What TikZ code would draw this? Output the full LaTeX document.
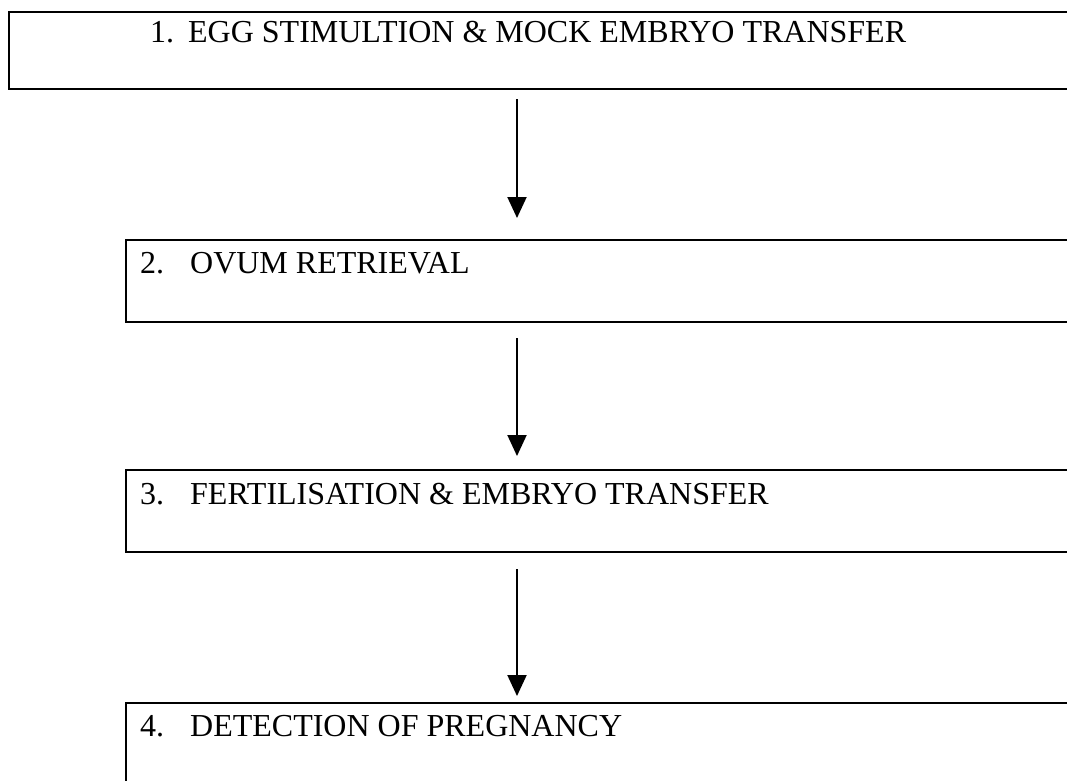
\documentclass[tikz,border=0pt]{standalone}
\usepackage{fontspec}
\setmainfont{Liberation Serif}
\usetikzlibrary{arrows.meta}
\begin{document}
\begin{tikzpicture}[x=1pt,y=1pt,
  box/.style={draw, line width=2pt, anchor=north west, inner sep=0pt, minimum width=1100pt},
  lbl/.style={anchor=base west, inner sep=0pt, font=\fontsize{32}{38}\selectfont},
  arr/.style={line width=2pt, -{Triangle[length=21pt,width=19pt]}}]
\useasboundingbox (0,0) rectangle (1067,-780);
\clip (0,0) rectangle (1067,-780);
\fill[white] (0,0) rectangle (1067,-780);
\node[box, minimum height=77pt] (b1) at (8,-11) {};
\node[box, minimum height=82pt] (b2) at (125,-239) {};
\node[box, minimum height=82pt] (b3) at (125,-469) {};
\node[box, minimum height=120pt] (b4) at (125,-702) {};
\node[lbl] (t1) at (150,-42) {1.\hspace{14pt}EGG STIMULTION \& MOCK EMBRYO TRANSFER};
\node[lbl] (t2) at (140,-273) {2.\hspace{26pt}OVUM RETRIEVAL};
\node[lbl] (t3) at (140,-504) {3.\hspace{26pt}FERTILISATION \& EMBRYO TRANSFER};
\node[lbl] (t4) at (140,-736) {4.\hspace{26pt}DETECTION OF PREGNANCY};
\coordinate (ax) at (517,0);
\draw[arr, shorten <=9pt, shorten >=21pt] (b1.south -| ax) -- (b2.north -| ax);
\draw[arr, shorten <=15pt, shorten >=13pt] (b2.south -| ax) -- (b3.north -| ax);
\draw[arr, shorten <=16pt, shorten >=6pt] (b3.south -| ax) -- (b4.north -| ax);
\end{tikzpicture}
\end{document}
